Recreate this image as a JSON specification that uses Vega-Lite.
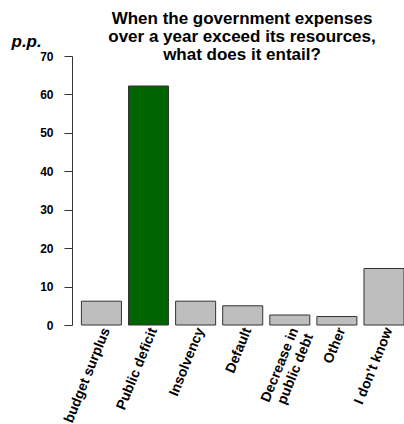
{
  "$schema": "https://vega.github.io/schema/vega-lite/v6.json",
  "autosize": "none",
  "width": 332,
  "height": 269,
  "padding": {"left": 72, "top": 56, "right": 0, "bottom": 99},
  "background": "white",
  "config": {"view": {"stroke": null}, "font": "Liberation Sans"},
  "title": {
    "text": ["When the government expenses", "over a year exceed its resources,", "what does it entail?"],
    "fontSize": 17,
    "fontWeight": "bold",
    "lineHeight": 18,
    "color": "black",
    "anchor": "middle",
    "dx": 4,
    "offset": -32
  },
  "data": {
    "values": [
      {"answer": "budget surplus", "value": 6.2, "highlight": "no"},
      {"answer": "Public deficit", "value": 62.2, "highlight": "yes"},
      {"answer": "Insolvency", "value": 6.2, "highlight": "no"},
      {"answer": "Default", "value": 5.0, "highlight": "no"},
      {"answer": "Decrease in public debt", "value": 2.6, "highlight": "no"},
      {"answer": "Other", "value": 2.2, "highlight": "no"},
      {"answer": "I don't know", "value": 14.7, "highlight": "no"}
    ]
  },
  "mark": {"type": "bar", "stroke": "#333333", "strokeWidth": 1},
  "encoding": {
    "x": {
      "field": "answer",
      "type": "nominal",
      "sort": null,
      "scale": {"paddingInner": 0.15, "paddingOuter": 0.1, "align": 1},
      "axis": {
        "title": null,
        "domain": false,
        "ticks": false,
        "labelAngle": -68,
        "labelFont": "Liberation Sans",
        "labelFontSize": 14,
        "labelFontWeight": "bold",
        "labelColor": "black",
        "labelPadding": 3,
        "labelOffset": 5,
        "labelLimit": 200,
        "labelExpr": "datum.value == 'Decrease in public debt' ? ['Decrease in', 'public debt'] : datum.value"
      }
    },
    "y": {
      "field": "value",
      "type": "quantitative",
      "scale": {"domain": [0, 70], "nice": false, "zero": true},
      "axis": {
        "values": [0, 10, 20, 30, 40, 50, 60, 70],
        "grid": false,
        "title": "p.p.",
        "titleAngle": 0,
        "titleAlign": "left",
        "titleBaseline": "alphabetic",
        "titleX": -61,
        "titleY": -10,
        "titleFontSize": 17,
        "titleFontWeight": "bold",
        "titleFontStyle": "italic",
        "titleColor": "black",
        "domainColor": "#333333",
        "tickColor": "#333333",
        "tickSize": 8,
        "labelPadding": 11,
        "labelFontSize": 12,
        "labelFontWeight": "bold",
        "labelColor": "black"
      }
    },
    "color": {
      "field": "highlight",
      "type": "nominal",
      "scale": {"domain": ["no", "yes"], "range": ["#bebebe", "#006400"]},
      "legend": null
    }
  }
}
